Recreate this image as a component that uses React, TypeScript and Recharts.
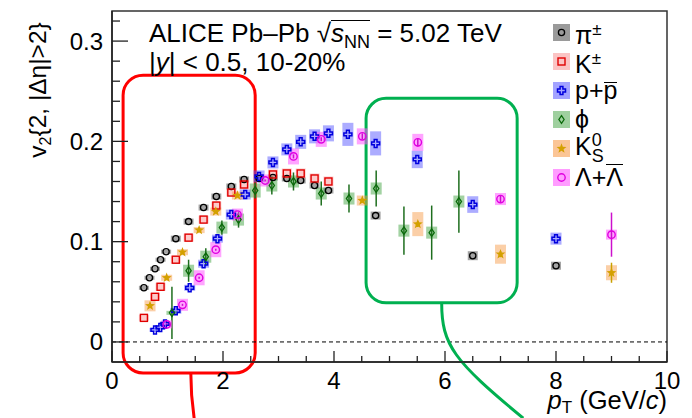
import React from 'react';
import {
  ScatterChart,
  Scatter,
  XAxis,
  YAxis,
  ErrorBar,
  ReferenceLine,
  ReferenceArea,
  Label,
} from 'recharts';

const FONT = '"Liberation Sans", Arial, Helvetica, sans-serif';

// pi+-
const pionPt = [0.575, 0.675, 0.775, 0.875, 0.975, 1.15, 1.38, 1.65, 1.88, 2.15, 2.38, 2.65, 2.9, 3.15, 3.4, 3.65, 3.9, 4.75, 6.5, 8.0];
const pionV2 = [0.054, 0.064, 0.073, 0.082, 0.09, 0.103, 0.12, 0.134, 0.145, 0.155, 0.162, 0.163, 0.164, 0.163, 0.161, 0.156, 0.151, 0.126, 0.086, 0.076];
const pionSys = [0.002, 0.002, 0.002, 0.002, 0.002, 0.003, 0.003, 0.003, 0.003, 0.003, 0.003, 0.003, 0.003, 0.003, 0.003, 0.003, 0.003, 0.004, 0.0045, 0.004];

// K+-
const kaonPt = [0.575, 0.775, 0.875, 1.15, 1.38, 1.65, 1.88, 2.15, 2.38, 2.9, 3.15, 3.4, 3.65, 3.9];
const kaonV2 = [0.024, 0.045, 0.055, 0.082, 0.104, 0.122, 0.136, 0.149, 0.157, 0.167, 0.168, 0.168, 0.163, 0.16];
const kaonSys = [0.003, 0.004, 0.004, 0.004, 0.004, 0.004, 0.004, 0.004, 0.005, 0.005, 0.005, 0.005, 0.005, 0.005];

// p + pbar
const protonPt = [0.775, 0.87, 0.955, 1.15, 1.4, 1.65, 1.9, 2.15, 2.4, 2.65, 2.9, 3.15, 3.4, 3.65, 3.9, 4.25, 4.75, 5.5, 6.5, 8.0];
const protonV2 = [0.012, 0.0145, 0.018, 0.031, 0.054, 0.078, 0.103, 0.127, 0.147, 0.165, 0.179, 0.192, 0.1995, 0.205, 0.208, 0.207, 0.198, 0.182, 0.137, 0.103];
const protonSys = [0.002, 0.002, 0.002, 0.003, 0.003, 0.004, 0.004, 0.005, 0.005, 0.006, 0.006, 0.006, 0.007, 0.007, 0.008, 0.0115, 0.012, 0.0087, 0.0083, 0.006];

// phi
const phiPt = [1.08, 1.38, 1.69, 1.98, 2.28, 2.58, 2.88, 3.27, 3.77, 4.27, 4.76, 5.26, 5.76, 6.25];
const phiV2 = [0.029, 0.071, 0.085, 0.114, 0.122, 0.151, 0.156, 0.16, 0.148, 0.143, 0.153, 0.111, 0.109, 0.14];
const phiStat = [0.026, 0.011, 0.0085, 0.007, 0.008, 0.008, 0.009, 0.009, 0.012, 0.014, 0.018, 0.024, 0.027, 0.031];
const phiSys = [0.002, 0.006, 0.006, 0.006, 0.006, 0.007, 0.006, 0.006, 0.006, 0.006, 0.006, 0.006, 0.006, 0.006];

// K0s
const k0sPt = [0.685, 0.985, 1.27, 1.57, 1.87, 2.26, 4.51, 5.51, 7.0, 9.0];
const k0sV2 = [0.036, 0.064, 0.0895, 0.1115, 0.13, 0.146, 0.141, 0.1175, 0.0875, 0.069];
const k0sStat = [0.001, 0.001, 0.001, 0.001, 0.001, 0.001, 0.002, 0.003, 0.003, 0.01];
const k0sSys = [0.0055, 0.003, 0.003, 0.003, 0.004, 0.004, 0.005, 0.012, 0.0095, 0.0075];

// Lambda + anti-Lambda
const lambdaPt = [0.985, 1.27, 1.57, 1.87, 2.26, 2.76, 3.27, 3.77, 4.51, 5.51, 7.0, 9.0];
const lambdaV2 = [0.0175, 0.037, 0.064, 0.092, 0.127, 0.161, 0.185, 0.202, 0.205, 0.199, 0.1425, 0.107];
const lambdaStat = [0.001, 0.001, 0.001, 0.001, 0.001, 0.001, 0.002, 0.002, 0.003, 0.004, 0.004, 0.022];
const lambdaSys = [0.004, 0.006, 0.0075, 0.0075, 0.006, 0.006, 0.008, 0.0075, 0.008, 0.0085, 0.006, 0.005];

const xTicks = [0, 0.5, 1, 1.5, 2, 2.5, 3, 3.5, 4, 4.5, 5, 5.5, 6, 6.5, 7, 7.5, 8, 8.5, 9, 9.5, 10];
const xTickLabels = [0, 2, 4, 6, 8, 10];
const yTicks = [0, 0.02, 0.04, 0.06, 0.08, 0.1, 0.12, 0.14, 0.16, 0.18, 0.2, 0.22, 0.24, 0.26, 0.28, 0.3, 0.32];
const yTickLabels = [0, 0.1, 0.2, 0.3];

const build = (pt: number[], v2: number[], sys: number[], stat?: number[]) =>
  pt.map((x, i) => ({ x, y: v2[i], sys: sys[i], stat: stat ? stat[i] : 0 }));

type Kind = 'circle' | 'square' | 'cross' | 'diamond' | 'star' | 'ring';

function Marker({ kind, cx, cy }: { kind: Kind; cx: number; cy: number }) {
  switch (kind) {
    case 'circle':
      return <circle cx={cx} cy={cy} r={3.1} fill="none" stroke="#000" strokeWidth={1.3} />;
    case 'square':
      return <rect x={cx - 3.5} y={cy - 3.5} width={7} height={7} fill="none" stroke="#e00000" strokeWidth={1.4} />;
    case 'cross': {
      const a = 4;
      const w = 1.4;
      const pts = [
        [-w, -a], [w, -a], [w, -w], [a, -w], [a, w], [w, w],
        [w, a], [-w, a], [-w, w], [-a, w], [-a, -w], [-w, -w],
      ];
      return (
        <polygon
          points={pts.map(([px, py]) => `${cx + px},${cy + py}`).join(' ')}
          fill="none"
          stroke="#0000dd"
          strokeWidth={1.5}
        />
      );
    }
    case 'diamond':
      return (
        <polygon
          points={`${cx},${cy - 3.8} ${cx + 2.6},${cy} ${cx},${cy + 3.8} ${cx - 2.6},${cy}`}
          fill="none"
          stroke="#0a6a0a"
          strokeWidth={1.3}
        />
      );
    case 'star': {
      const pts: string[] = [];
      for (let i = 0; i < 10; i++) {
        const r = i % 2 === 0 ? 5.2 : 2.2;
        const ang = -Math.PI / 2 + (i * Math.PI) / 5;
        pts.push(`${cx + r * Math.cos(ang)},${cy + r * Math.sin(ang)}`);
      }
      return <polygon points={pts.join(' ')} fill="#d4a000" />;
    }
    default:
      return <circle cx={cx} cy={cy} r={3.7} fill="none" stroke="#e000e0" strokeWidth={1.4} />;
  }
}

const series = [
  { name: 'pi', data: build(pionPt, pionV2, pionSys), kind: 'circle' as Kind, box: 'rgba(110,110,110,0.62)', legendBox: '#9a9a9a', boxW: 10, statColor: '' },
  { name: 'K', data: build(kaonPt, kaonV2, kaonSys), kind: 'square' as Kind, box: 'rgba(250,140,140,0.45)', legendBox: '#fbc4c4', boxW: 10, statColor: '' },
  { name: 'p', data: build(protonPt, protonV2, protonSys), kind: 'cross' as Kind, box: 'rgba(90,90,255,0.5)', legendBox: '#a3a3ff', boxW: 11, statColor: '' },
  { name: 'phi', data: build(phiPt, phiV2, phiSys, phiStat), kind: 'diamond' as Kind, box: 'rgba(70,165,70,0.5)', legendBox: '#9fd09f', boxW: 11, statColor: '#1e6e1e' },
  { name: 'K0S', data: build(k0sPt, k0sV2, k0sSys, k0sStat), kind: 'star' as Kind, box: 'rgba(248,160,80,0.5)', legendBox: '#fbc596', boxW: 11, statColor: '#c9a000' },
  { name: 'Lambda', data: build(lambdaPt, lambdaV2, lambdaSys, lambdaStat), kind: 'ring' as Kind, box: 'rgba(255,90,255,0.55)', legendBox: '#ff9cff', boxW: 11, statColor: '#cc10cc' },
];

// bar over a glyph; lh controls how high the bar sits above the baseline
const bar = (c: React.ReactNode, lh: number) => (
  <span style={{ display: 'inline-block', borderTop: '1.5px solid #000', lineHeight: `${lh}px` }}>{c}</span>
);

const legendLabels: React.ReactNode[] = [
  <>π<sup style={{ fontSize: 17 }}>±</sup></>,
  <>K<sup style={{ fontSize: 17 }}>±</sup></>,
  <>p+{bar('p', 14)}</>,
  <>ϕ</>,
  <>K<sup style={{ fontSize: 18 }}>0</sup><sub style={{ fontSize: 18, marginLeft: -10 }}>S</sub></>,
  <>Λ+{bar('Λ', 24)}</>,
];

const XTick = (props: any) => {
  const { x, y, payload } = props;
  const v = payload.value as number;
  const major = xTickLabels.includes(v);
  return (
    <g>
      <line x1={x} x2={x} y1={y} y2={y - (major ? 11 : 6)} stroke="#222" strokeWidth={1.3} />
      {major && (
        <text x={x} y={y + 27} textAnchor="middle" fontFamily={FONT} fontSize={24} fill="#000">
          {v}
        </text>
      )}
    </g>
  );
};

const YTick = (props: any) => {
  const { x, y, payload } = props;
  const v = payload.value as number;
  const major = yTickLabels.some((t) => Math.abs(t - v) < 1e-9);
  return (
    <g>
      <line x1={x} x2={x + (major ? 16 : 8)} y1={y} y2={y} stroke="#222" strokeWidth={1.3} />
      {major && (
        <text x={x - 9} y={y + 8.5} textAnchor="end" fontFamily={FONT} fontSize={24} fill="#000">
          {v}
        </text>
      )}
    </g>
  );
};

const XLabel = (props: any) => {
  const vb = props.viewBox;
  return (
    <text x={vb.x + vb.width} y={vb.y + 47} textAnchor="end" fontFamily={FONT} fontSize={25.5} fill="#000">
      <tspan fontStyle="italic">p</tspan>
      <tspan fontSize={17} dy={4}>T</tspan>
      <tspan dy={-4}> (GeV/</tspan>
      <tspan fontStyle="italic">c</tspan>
      <tspan>)</tspan>
    </text>
  );
};

const YLabel = () => (
  <text x={46} y={90} transform="rotate(-90 46 90)" textAnchor="middle" fontFamily={FONT} fontSize={24.5} fill="#000">
    <tspan>v</tspan>
    <tspan fontSize={16} dy={5}>2</tspan>
    <tspan dy={-5}>{'{2, |Δη|>2}'}</tspan>
  </text>
);

// curved tail leaving the bottom of a highlight box
const tail = (bend: number) => (p: any) => {
  const { x1, y1, x2, y2 } = p;
  const d =
    bend === 0
      ? `M${x1},${y1} Q${x1},${(y1 + y2) / 2} ${x2},${y2}`
      : `M${x1},${y1} C${x1},${y1 + 42} ${x1 + 12},${y1 + 58} ${x2},${y2}`;
  return <path d={d} fill="none" stroke={p.stroke} strokeWidth={3} />;
};

const roundBox = (p: any) => (
  <rect x={p.x} y={p.y} width={p.width} height={p.height} rx={20} ry={20} fill="none" stroke={p.stroke} strokeWidth={3} />
);

export default function App() {
  return (
    <div style={{ position: 'absolute', left: 0, top: 0, width: 692, height: 418, background: '#fff' }}>
      <ScatterChart width={692} height={418} margin={{ top: 11, right: 25, bottom: 0, left: 0 }}>
        <XAxis
          type="number"
          dataKey="x"
          domain={[0, 10]}
          ticks={xTicks}
          interval={0}
          allowDataOverflow
          height={56}
          tickSize={0}
          tickMargin={0}
          tickLine={false}
          tick={<XTick />}
          axisLine={{ stroke: '#222', strokeWidth: 1.5 }}
        >
          <Label content={<XLabel />} />
        </XAxis>
        <YAxis
          type="number"
          dataKey="y"
          domain={[-0.02, 0.33]}
          ticks={yTicks}
          interval={0}
          allowDataOverflow
          width={112}
          tickSize={0}
          tickMargin={0}
          tickLine={false}
          tick={<YTick />}
          axisLine={{ stroke: '#222', strokeWidth: 1.5 }}
        >
          <Label content={<YLabel />} />
        </YAxis>
        <ReferenceArea x1={0} x2={10} y1={-0.02} y2={0.33} fill="none" stroke="#333" strokeWidth={1.5} ifOverflow="visible" />
        <ReferenceLine y={0} stroke="#000" strokeWidth={1} strokeDasharray="4 3" />
        {series.map((s) => (
          <Scatter
            key={s.name}
            data={s.data}
            isAnimationActive={false}
            shape={(p: any) => <Marker kind={s.kind} cx={p.cx} cy={p.cy} />}
          >
            <ErrorBar dataKey="sys" direction="y" width={0} strokeWidth={s.boxW} stroke={s.box} />
            {s.statColor && <ErrorBar dataKey="stat" direction="y" width={0} strokeWidth={1.5} stroke={s.statColor} />}
          </Scatter>
        ))}
        {/* highlighted low- and intermediate-pT regions */}
        <ReferenceArea x1={0.2} x2={2.58} y1={-0.031} y2={0.266} stroke="#ff0000" ifOverflow="visible" shape={roundBox} />
        <ReferenceLine segment={[{ x: 1.42, y: -0.031 }, { x: 1.48, y: -0.076 }]} stroke="#ff0000" ifOverflow="visible" shape={tail(0)} />
        <ReferenceArea x1={4.578} x2={7.3} y1={0.039} y2={0.243} stroke="#00b050" ifOverflow="visible" shape={roundBox} />
        <ReferenceLine segment={[{ x: 5.94, y: 0.039 }, { x: 7.41, y: -0.076 }]} stroke="#00b050" ifOverflow="visible" shape={tail(1)} />
      </ScatterChart>

      <div
        style={{
          position: 'absolute',
          left: 149,
          top: 19,
          fontFamily: FONT,
          fontSize: 26,
          lineHeight: '29px',
          color: '#000',
          whiteSpace: 'nowrap',
        }}
      >
        <div>
          ALICE Pb–Pb √
          <span style={{ display: 'inline-block', borderTop: '1.5px solid #000', lineHeight: '25px' }}>
            <i>s</i>
            <sub style={{ fontSize: 18, lineHeight: 0 }}>NN</sub>
          </span>{' '}
          = 5.02 TeV
        </div>
        <div>
          |<i>y</i>| &lt; 0.5, 10-20%
        </div>
      </div>

      <div style={{ position: 'absolute', left: 553, top: 18, fontFamily: FONT, fontSize: 25, color: '#000' }}>
        {series.map((s, i) => (
          <div key={s.name} style={{ display: 'flex', alignItems: 'center', height: 29, whiteSpace: 'nowrap' }}>
            <svg width={17} height={17} style={{ flex: 'none' }}>
              <rect x={0} y={0} width={17} height={17} fill={s.legendBox} />
              <Marker kind={s.kind} cx={8.5} cy={8.5} />
            </svg>
            <span style={{ marginLeft: 5, lineHeight: '29px' }}>{legendLabels[i]}</span>
          </div>
        ))}
      </div>
    </div>
  );
}
